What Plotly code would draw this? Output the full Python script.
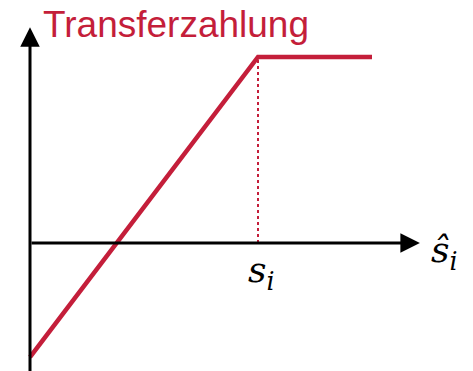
import plotly.graph_objects as go

# Data (abstract units: s_i = 1)
x_vals = [0, 1, 1.5]
y_vals = [-0.5, 0.816, 0.816]
s_i = 1.0
cap = 0.816

RED = "#C41E3A"
SERIF = "DejaVu Serif"

fig = go.Figure()
fig.add_trace(go.Scatter(x=x_vals, y=y_vals, mode="lines",
                         line=dict(color=RED, width=4.5), hoverinfo="skip"))
fig.add_trace(go.Scatter(x=[s_i, s_i], y=[0, cap], mode="lines",
                         line=dict(color=RED, width=2, dash="dot"), hoverinfo="skip"))

# axes arrows
fig.add_annotation(x=0, y=0.947, ax=0, ay=-0.6, xref="x", yref="y", axref="x", ayref="y",
                   showarrow=True, arrowhead=2, arrowsize=1.3, arrowwidth=3, arrowcolor="black", text="")
fig.add_annotation(x=1.71, y=0, ax=0, ay=0, xref="x", yref="y", axref="x", ayref="y",
                   showarrow=True, arrowhead=2, arrowsize=1.3, arrowwidth=3, arrowcolor="black", text="")

fig.add_annotation(x=0.05, y=0.96, xref="x", yref="y", xanchor="left", yanchor="middle",
                   text="Transferzahlung", showarrow=False,
                   font=dict(family="Liberation Sans", size=37, color=RED))
fig.add_annotation(x=1.82, y=-0.04, xref="x", yref="y", xanchor="center", yanchor="middle",
                   text="<i>ŝ<sub>i</sub></i>", showarrow=False,
                   font=dict(family=SERIF, size=36, color="black"))
fig.add_annotation(x=1.017, y=-0.13, xref="x", yref="y", xanchor="center", yanchor="middle",
                   text="<i>s<sub>i</sub></i>", showarrow=False,
                   font=dict(family=SERIF, size=36, color="black"))

fig.update_layout(width=473, height=371, margin=dict(l=0, r=0, t=0, b=0),
                  paper_bgcolor="white", plot_bgcolor="white", showlegend=False,
                  xaxis=dict(range=[-0.1316, 1.943], visible=False, fixedrange=True),
                  yaxis=dict(range=[-0.561, 1.066], visible=False, fixedrange=True))
fig.write_html("out.html", config={"displayModeBar": False},
               post_script="document.body.style.margin='0px';")
